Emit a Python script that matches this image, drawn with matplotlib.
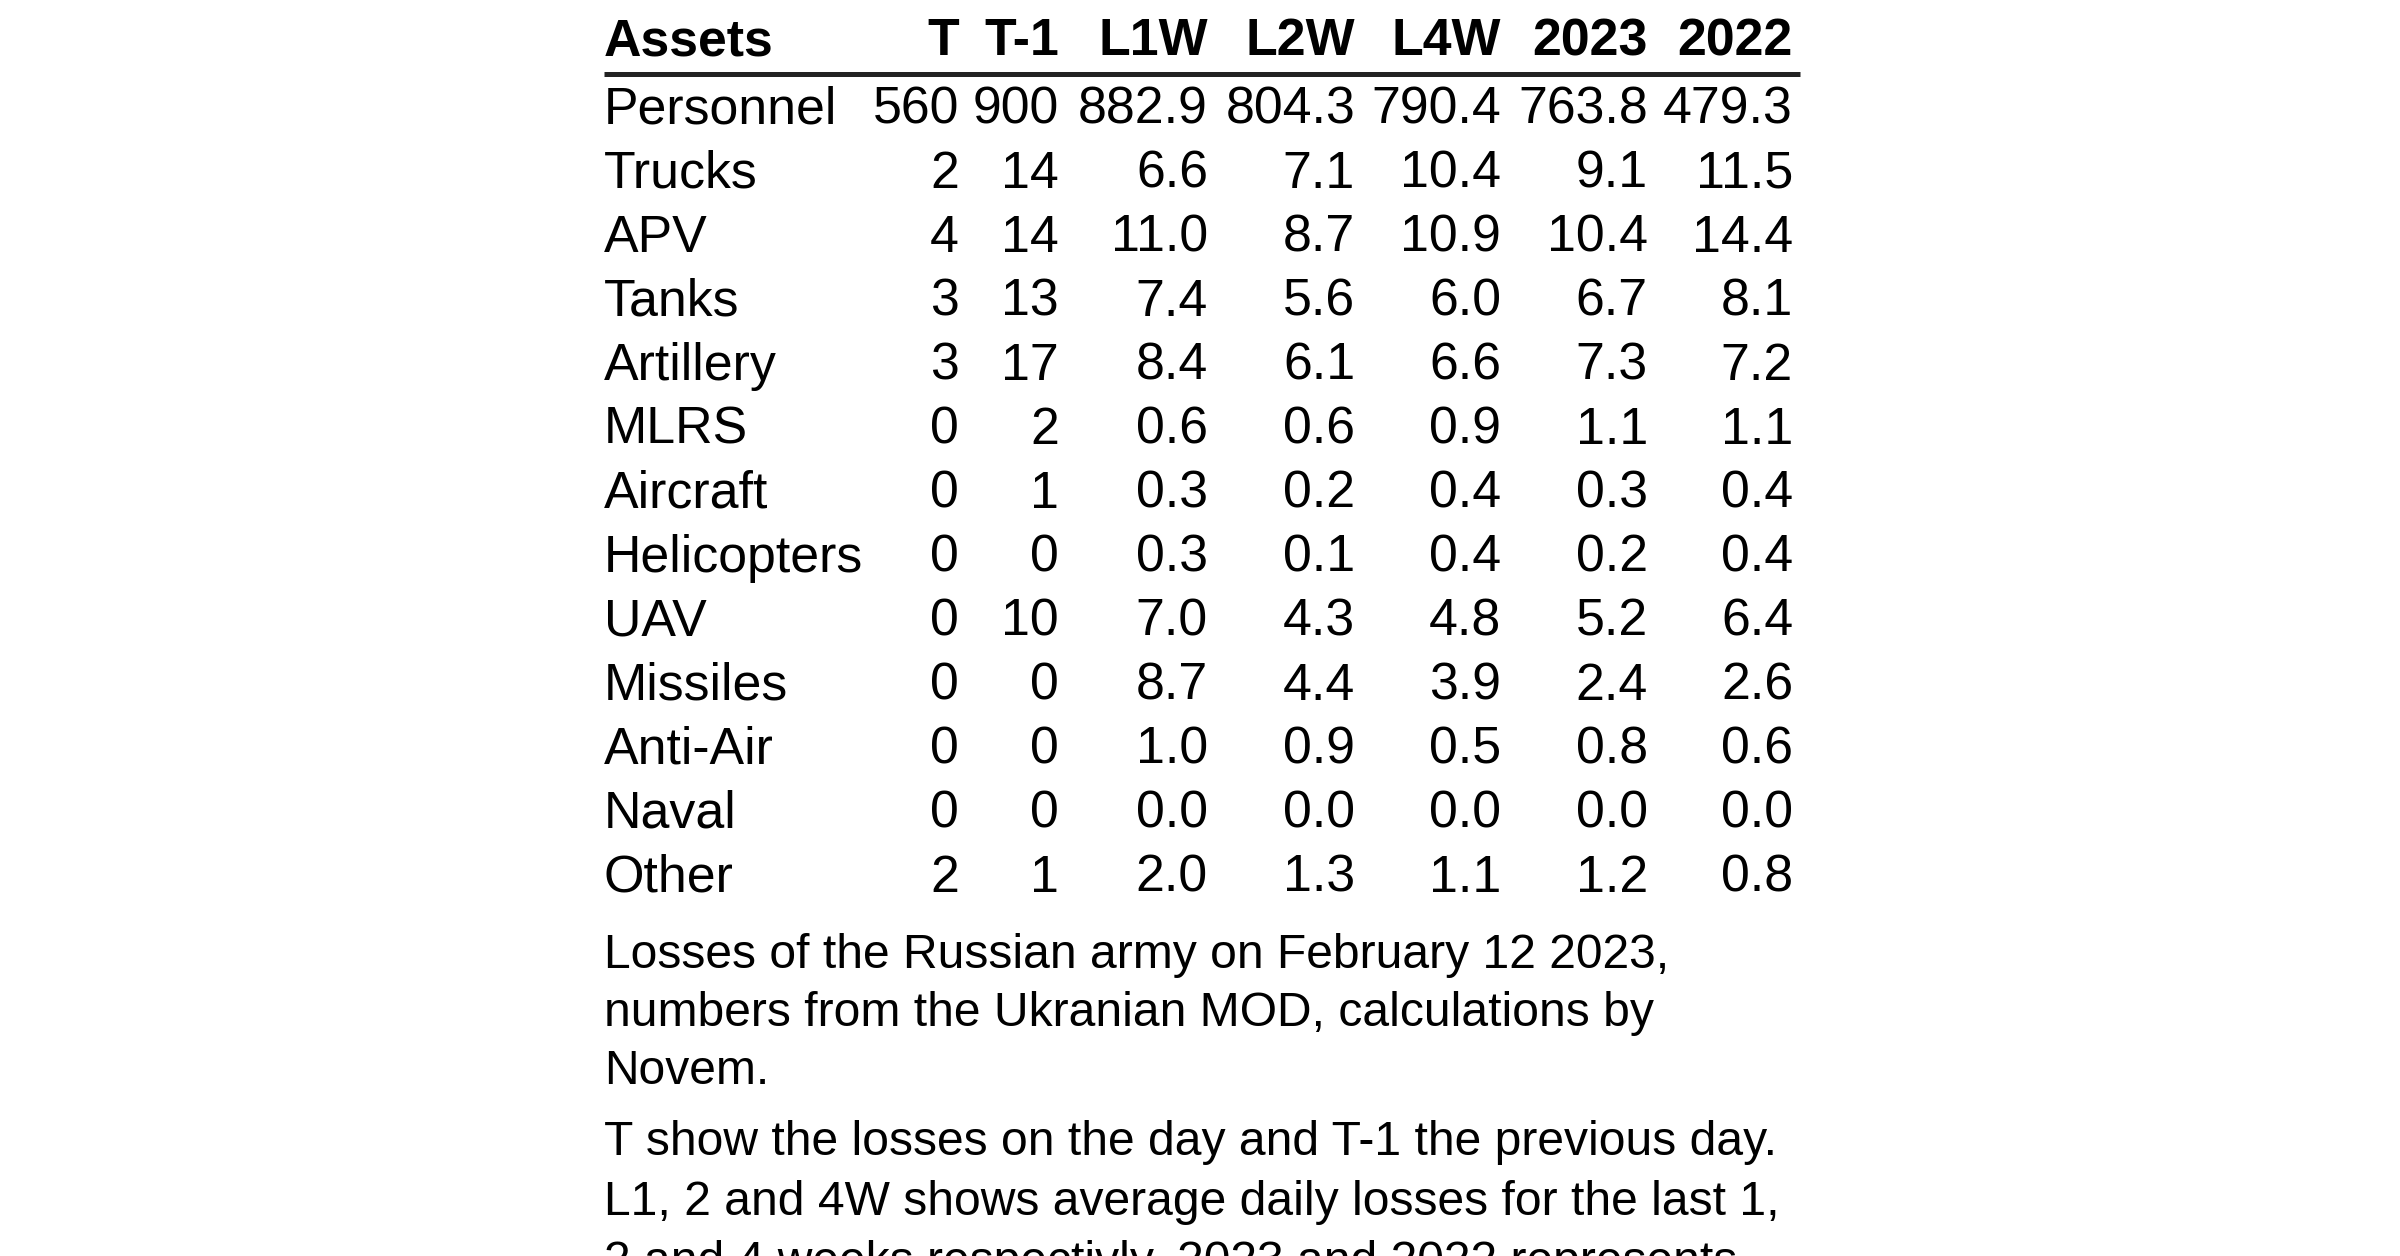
import matplotlib
matplotlib.use("Agg")
import matplotlib.pyplot as plt

plt.rcParams['font.family'] = ['Liberation Sans', 'DejaVu Sans']

# ---- data ----
columns = ["Assets", "T", "T-1", "L1W", "L2W", "L4W", "2023", "2022"]
assets = ["Personnel", "Trucks", "APV", "Tanks", "Artillery", "MLRS", "Aircraft",
          "Helicopters", "UAV", "Missiles", "Anti-Air", "Naval", "Other"]
t_day = [560, 2, 4, 3, 3, 0, 0, 0, 0, 0, 0, 0, 2]
t_prev = [900, 14, 14, 13, 17, 2, 1, 0, 10, 0, 0, 0, 1]
l1w = [882.9, 6.6, 11.0, 7.4, 8.4, 0.6, 0.3, 0.3, 7.0, 8.7, 1.0, 0.0, 2.0]
l2w = [804.3, 7.1, 8.7, 5.6, 6.1, 0.6, 0.2, 0.1, 4.3, 4.4, 0.9, 0.0, 1.3]
l4w = [790.4, 10.4, 10.9, 6.0, 6.6, 0.9, 0.4, 0.4, 4.8, 3.9, 0.5, 0.0, 1.1]
y2023 = [763.8, 9.1, 10.4, 6.7, 7.3, 1.1, 0.3, 0.2, 5.2, 2.4, 0.8, 0.0, 1.2]
y2022 = [479.3, 11.5, 14.4, 8.1, 7.2, 1.1, 0.4, 0.4, 6.4, 2.6, 0.6, 0.0, 0.8]

caption1 = ["Losses of the Russian army on February 12 2023,",
            "numbers from the Ukranian MOD, calculations by",
            "Novem."]
caption2 = ["T show the losses on the day and T-1 the previous day.",
            "L1, 2 and 4W shows average daily losses for the last 1,",
            "2 and 4 weeks respectivly. 2023 and 2022 represents"]

# ---- layout ----
W, H = 2400, 1256
fig = plt.figure(figsize=(12, 6.28), dpi=200)
ax = fig.add_axes([0, 0, 1, 1])
ax.set_xlim(0, W)
ax.set_ylim(H, 0)
ax.axis('off')

left_x = 604
col_right = [959, 1059, 1208, 1355, 1501, 1648, 1793]
table_fs = 18.7
cap_fs = 17.3
header_y = 55
row0_y = 124
row_step = 64

# header
ax.text(left_x, header_y, columns[0], ha='left', va='baseline',
        fontsize=table_fs, fontweight='bold', color='black')
for cx, name in zip(col_right, columns[1:]):
    ax.text(cx, header_y, name, ha='right', va='baseline',
            fontsize=table_fs, fontweight='bold', color='black')

ax.plot([left_x, 1800], [73.5, 73.5], color='#222222', lw=1.8,
        solid_capstyle='butt')

series = [t_day, t_prev, l1w, l2w, l4w, y2023, y2022]
fmts = ["{:d}", "{:d}", "{:.1f}", "{:.1f}", "{:.1f}", "{:.1f}", "{:.1f}"]
for i, name in enumerate(assets):
    y = row0_y + i * row_step
    ax.text(left_x, y, name, ha='left', va='baseline', fontsize=table_fs, color='black')
    for cx, vals, f in zip(col_right, series, fmts):
        ax.text(cx, y, f.format(vals[i]), ha='right', va='baseline',
                fontsize=table_fs, color='black')

for i, line in enumerate(caption1):
    ax.text(left_x, 968 + i * 58, line, ha='left', va='baseline',
            fontsize=cap_fs, color='black')
for i, line in enumerate(caption2):
    ax.text(left_x, 1155 + i * 60, line, ha='left', va='baseline',
            fontsize=cap_fs, color='black')

fig.savefig("out.png", dpi=200, facecolor='white')
